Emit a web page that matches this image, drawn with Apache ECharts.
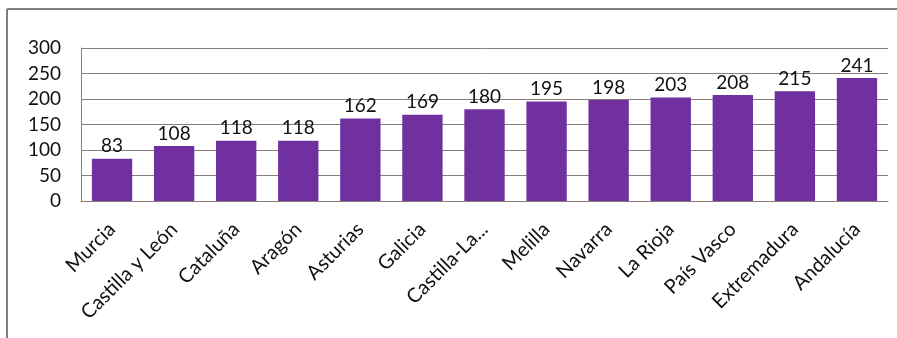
<!DOCTYPE html>
<html><head><meta charset="utf-8">
<script src="https://cdn.jsdelivr.net/npm/echarts@6/dist/echarts.min.js"></script>
<style>html,body{margin:0;padding:0;background:#fff}#c{width:897px;height:338px}</style>
</head><body><div id="c"></div>
<script>
const categories = ['Murcia','Castilla y León','Cataluña','Aragón','Asturias','Galicia','Castilla-La...','Melilla','Navarra','La Rioja','País Vasco','Extremadura','Andalucía'];
const values = [83,108,118,118,162,169,180,195,198,203,208,215,241];
const yTicks = [0,50,100,150,200,250,300];
const chart = echarts.init(document.getElementById('c'));
const font = 'Lato, "Open Sans", sans-serif';
chart.setOption({
  animation:false,
  graphic:[
    {type:'line',shape:{x1:7,y1:9,x2:897,y2:9},style:{stroke:'#7f7f7f',lineWidth:2}},
    {type:'line',shape:{x1:7,y1:9,x2:7,y2:338},style:{stroke:'#7f7f7f',lineWidth:2}}
  ],
  grid:{left:81,right:9,top:48,bottom:137},
  xAxis:{type:'category',data:categories,
    axisLine:{lineStyle:{color:'#8a7d78'}},axisTick:{show:false},
    axisLabel:{rotate:45,interval:0,fontSize:20,color:'#111',fontFamily:font,margin:25}},
  yAxis:{type:'value',min:yTicks[0],max:yTicks[yTicks.length-1],interval:50,
    axisLine:{show:true,lineStyle:{color:'#8a7d78'}},axisTick:{show:false},
    splitLine:{lineStyle:{color:'#8a7d78',width:1}},
    axisLabel:{fontSize:19,color:'#111',fontFamily:font,margin:20}},
  series:[{type:'bar',data:values,barWidth:'65%',
    itemStyle:{color:'#7030A0'},
    label:{show:true,position:'top',fontSize:19,color:'#111',fontFamily:font,distance:3}}]
});
</script></body></html>
